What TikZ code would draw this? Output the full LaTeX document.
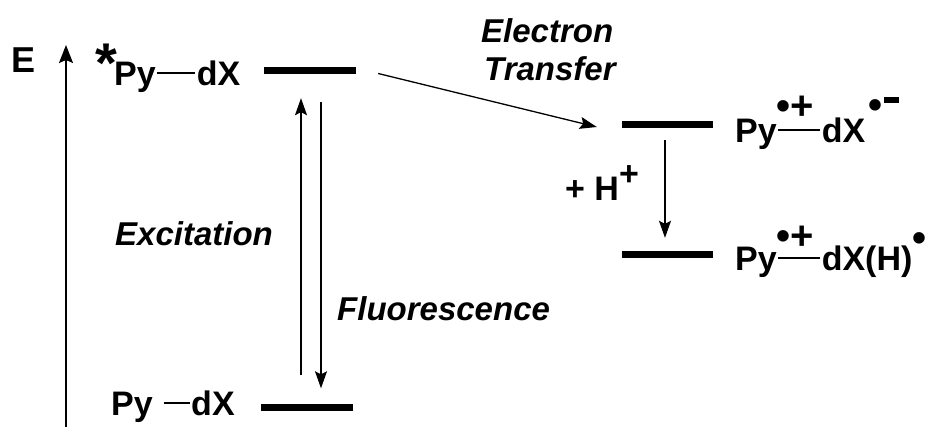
\documentclass[tikz,border=0pt]{standalone}
\usepackage{fontspec}
\setmainfont{Liberation Sans}
\usetikzlibrary{arrows.meta}
\newcommand{\bnd}[1]{\hspace{1.5pt}\rule[0.33em]{#1}{1.4pt}\hspace{1.5pt}}
\newcommand{\rz}[2]{\raisebox{#1}{\fontsize{40}{40}\selectfont #2}}
\begin{document}
\begin{tikzpicture}[x=1pt,y=-1pt,
  lab/.style={font=\bfseries\fontsize{34}{38}\selectfont, inner sep=0pt, anchor=base west},
  itl/.style={font=\bfseries\itshape\fontsize{33}{38}\selectfont, inner sep=0pt, anchor=base west},
  bar/.style={fill=black, minimum width=92pt, minimum height=7pt, inner sep=0pt},
  arr/.style={line width=1.3pt, -{Stealth[length=17pt,width=12pt,inset=3pt]}}]
\useasboundingbox (0,0) rectangle (927,429);
% energy axis
\coordinate (ax0) at (66,427);
\coordinate (ax1) at (66,45);
\draw[arr, line width=1.5pt, -{Stealth[length=18pt,width=14pt,inset=3pt]}] (ax0) -- (ax1);
\node[lab, font=\bfseries\fontsize{36}{40}\selectfont] (E) at (11,72) {E};
% levels
\node[bar] (L1) at (310,70.5) {};
\node[bar] (L0) at (307,407) {};
\node[bar, minimum width=91pt] (L2) at (667.5,124) {};
\node[bar, minimum width=91pt] (L3) at (667.5,254.5) {};
% labels
\node[lab, font=\bfseries\fontsize{56}{60}\selectfont] (star) at (95,82) {*};
\node[lab] (Ltop) at (114,85) {Py\bnd{38pt}dX};
\node[lab] (Lbot) at (111,415) {Py \bnd{26pt}dX};
\node[lab] (Lrad) at (735,142) {Py\rlap{\rz{22.5pt}{•}\rz{23pt}{+}}\bnd{42pt}dX\hspace{3pt}\rz{24pt}{•}\hspace{2pt}\raisebox{39.5pt}{\rule{15pt}{5.5pt}}};
\node[lab] (Lprot) at (735,270) {Py\rlap{\rz{21pt}{•}\rz{21pt}{+}}\bnd{42pt}dX(H)\rz{19pt}{•}};
\node[lab] (H) at (565,200) {+ H\raisebox{0.42em}{+}};
\node[itl] (exc) at (115,245) {Excitation};
\node[itl] (flu) at (337,320) {Fluorescence};
\node[itl] (et1) at (481,42) {Electron};
\node[itl] (et2) at (484,80) {Transfer};
% transitions
\draw[arr] ([xshift=-6pt,yshift=28.5pt]L0.north) -- ([xshift=-9pt,yshift=-24pt]L1.south);
\draw[arr] ([xshift=11pt,yshift=-28pt]L1.south) -- ([xshift=14pt,yshift=15pt]L0.north);
\draw[arr] ([xshift=22pt,yshift=-3pt]L1.east) -- ([xshift=-25pt,yshift=-3pt]L2.west);
\draw[arr] ([xshift=-2.5pt,yshift=-12.5pt]L2.south) -- ([xshift=-2.5pt,yshift=13pt]L3.north);
\end{tikzpicture}
\end{document}
